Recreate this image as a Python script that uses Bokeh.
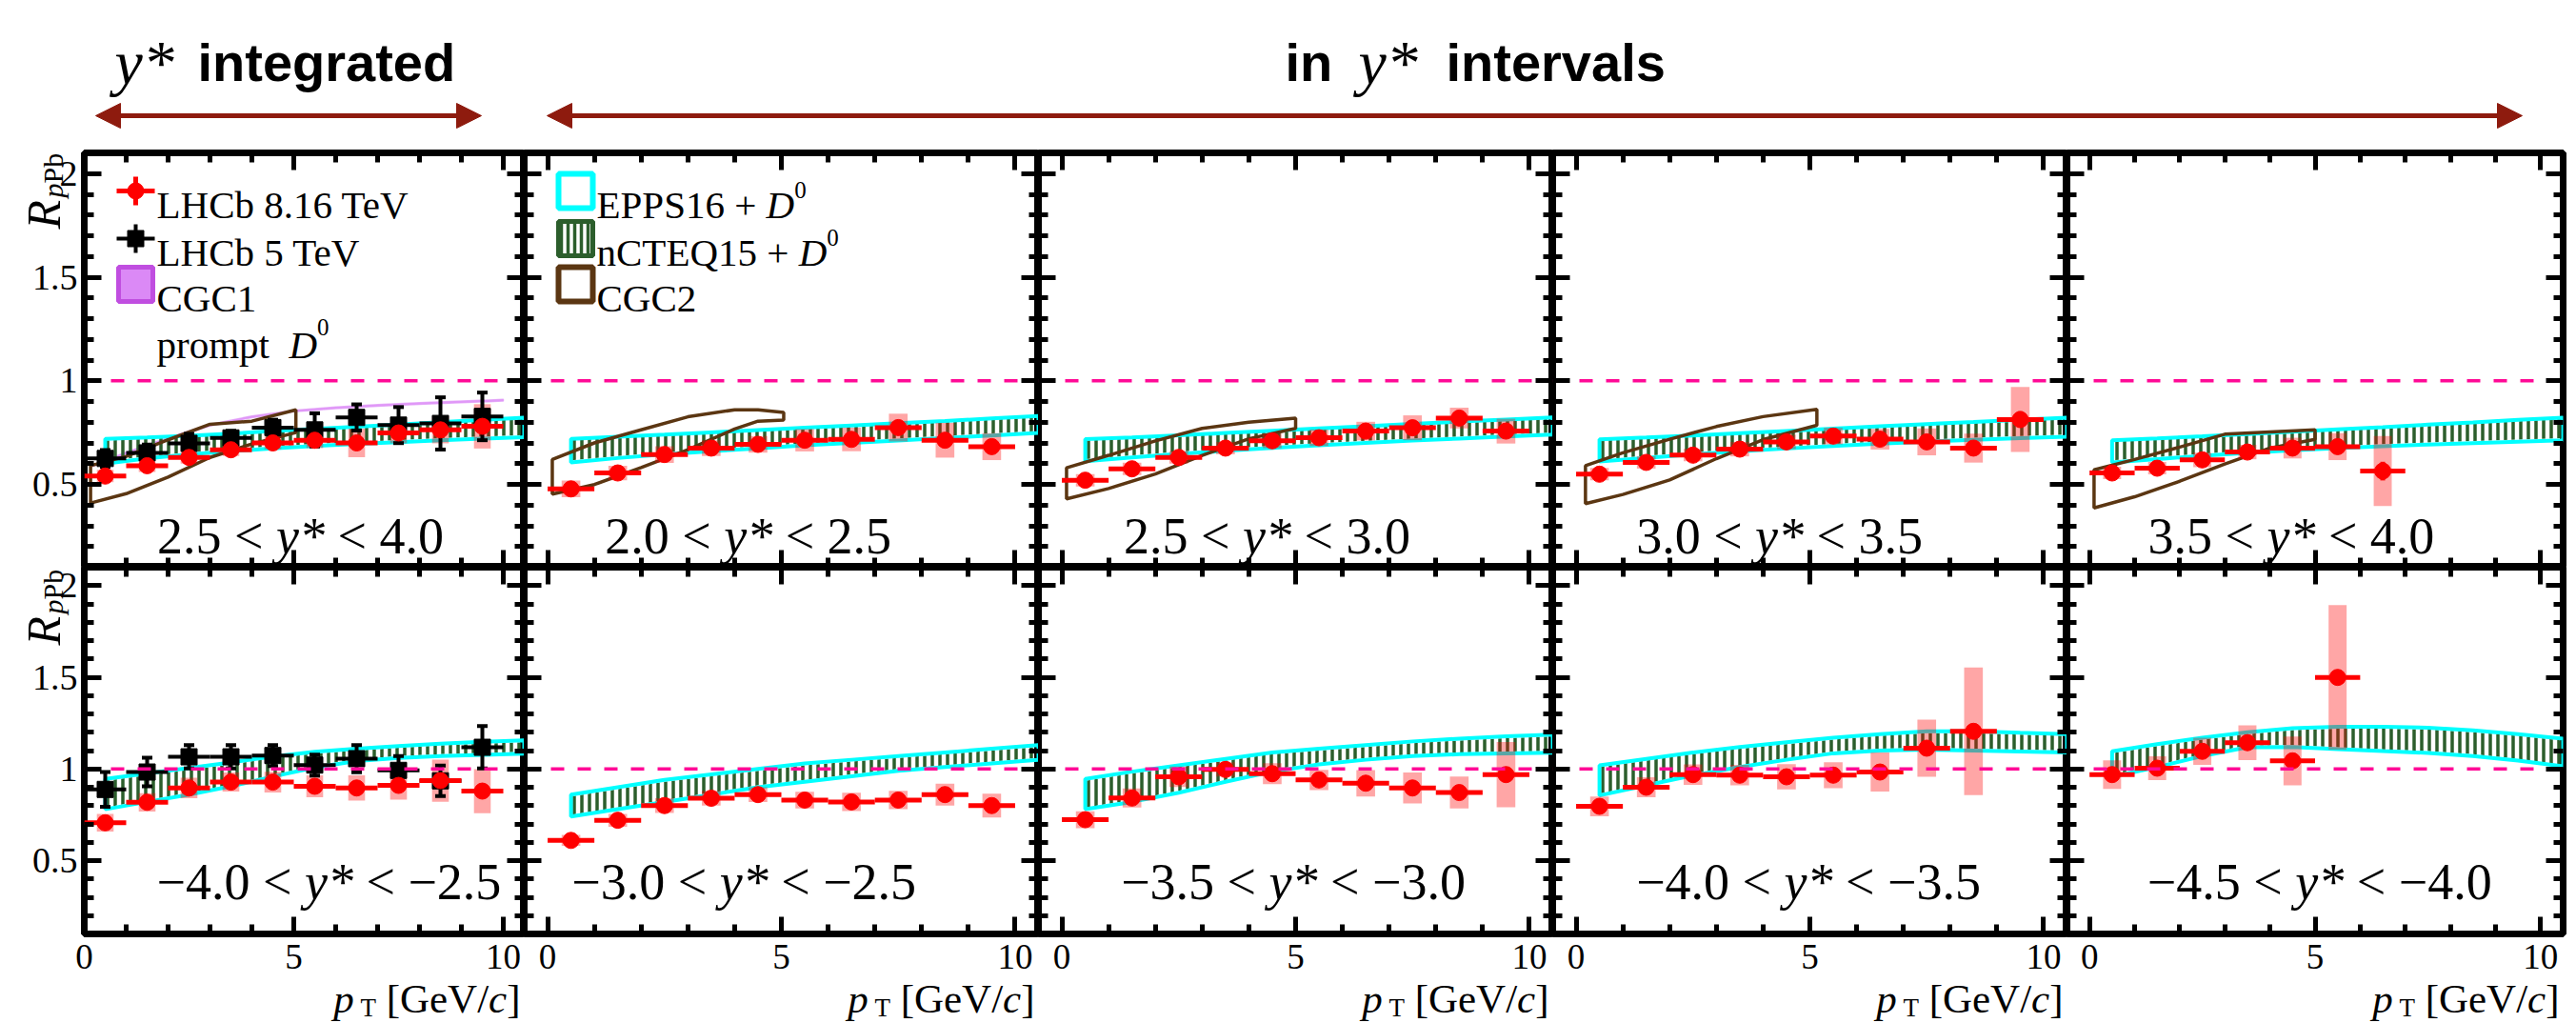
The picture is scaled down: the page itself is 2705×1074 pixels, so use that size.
import math
from bokeh.plotting import figure
from bokeh.models import (Range1d, LinearAxis, SingleIntervalTicker, Span, Label,
                          Arrow, NormalHead)
from bokeh.layouts import column, row
from bokeh.embed import file_html
from bokeh.resources import INLINE
from bokeh.core.properties import value

# ---------------------------------------------------------------------------
# Transverse-momentum binning (GeV/c)
# ---------------------------------------------------------------------------
PT = [0.5, 1.5, 2.5, 3.5, 4.5, 5.5, 6.5, 7.5, 8.5, 9.5]
PT_HALF_BIN = 0.5
SYST_HALF_WIDTH = 0.2
BAND_PT = [0.5, 1.5, 2.5, 3.5, 4.5, 5.5, 6.5, 7.5, 8.5, 9.5, 10.5]

# Axis tick labels
X_TICKS = [0, 5, 10]
X_TICK_LABELS = ["0", "5", "10"]
Y_TICKS = [0.5, 1.0, 1.5, 2.0]
Y_TICK_LABELS = ["0.5", "1", "1.5", "2"]

# ---------------------------------------------------------------------------
# LHCb 8.16 TeV prompt D0 R_pPb, forward rapidity (top row)
# ---------------------------------------------------------------------------
RPPB_FWD_INT = [0.54, 0.59, 0.63, 0.667, 0.70, 0.713, 0.70, 0.748, 0.763, 0.78]
STAT_FWD_INT = [0.01, 0.01, 0.01, 0.01, 0.012, 0.015, 0.02, 0.02, 0.025, 0.03]
SYST_FWD_INT = [0.03, 0.03, 0.03, 0.03, 0.03, 0.038, 0.069, 0.05, 0.065, 0.107]

RPPB_FWD_20 = [0.478, 0.555, 0.644, 0.675, 0.693, 0.713, 0.717, 0.774, 0.713, 0.682]
STAT_FWD_20 = [0.01, 0.01, 0.01, 0.01, 0.012, 0.015, 0.02, 0.02, 0.025, 0.03]
SYST_FWD_20 = [0.04, 0.035, 0.04, 0.038, 0.04, 0.054, 0.057, 0.067, 0.084, 0.065]

RPPB_FWD_25 = [0.52, 0.575, 0.63, 0.675, 0.71, 0.725, 0.757, 0.773, 0.82, 0.757]
STAT_FWD_25 = [0.01, 0.01, 0.01, 0.01, 0.012, 0.015, 0.02, 0.02, 0.025, 0.03]
SYST_FWD_25 = [0.03, 0.03, 0.03, 0.03, 0.035, 0.04, 0.045, 0.06, 0.05, 0.06]

RPPB_FWD_30 = [0.549, 0.606, 0.641, 0.670, 0.705, 0.733, 0.718, 0.705, 0.675, 0.813]
STAT_FWD_30 = [0.01, 0.01, 0.01, 0.01, 0.012, 0.015, 0.02, 0.02, 0.025, 0.04]
SYST_FWD_30 = [0.03, 0.03, 0.03, 0.035, 0.035, 0.04, 0.05, 0.065, 0.07, 0.157]

RPPB_FWD_35 = [0.555, 0.578, 0.618, 0.656, 0.675, 0.682, 0.564]
STAT_FWD_35 = [0.01, 0.01, 0.01, 0.015, 0.015, 0.02, 0.045]
SYST_FWD_35 = [0.03, 0.03, 0.035, 0.035, 0.05, 0.065, 0.169]

# ---------------------------------------------------------------------------
# LHCb 8.16 TeV prompt D0 R_pPb, backward rapidity (bottom row)
# ---------------------------------------------------------------------------
RPPB_BWD_INT = [0.706, 0.818, 0.896, 0.928, 0.928, 0.905, 0.896, 0.910, 0.936, 0.879]
STAT_BWD_INT = [0.01, 0.01, 0.01, 0.012, 0.012, 0.015, 0.02, 0.02, 0.025, 0.03]
SYST_BWD_INT = [0.048, 0.05, 0.056, 0.052, 0.056, 0.06, 0.069, 0.078, 0.115, 0.12]

RPPB_BWD_30 = [0.61, 0.72, 0.80, 0.84, 0.86, 0.83, 0.82, 0.83, 0.86, 0.80]
STAT_BWD_30 = [0.01, 0.01, 0.01, 0.012, 0.012, 0.015, 0.02, 0.02, 0.025, 0.03]
SYST_BWD_30 = [0.03, 0.035, 0.04, 0.04, 0.04, 0.045, 0.05, 0.05, 0.06, 0.065]

RPPB_BWD_35 = [0.723, 0.841, 0.957, 0.997, 0.974, 0.94, 0.922, 0.896, 0.871, 0.969]
STAT_BWD_35 = [0.01, 0.01, 0.01, 0.012, 0.012, 0.015, 0.02, 0.02, 0.025, 0.035]
SYST_BWD_35 = [0.046, 0.052, 0.056, 0.039, 0.057, 0.055, 0.072, 0.084, 0.087, 0.178]

RPPB_BWD_40 = [0.796, 0.9, 0.969, 0.966, 0.957, 0.966, 0.983, 1.113, 1.205]
STAT_BWD_40 = [0.01, 0.01, 0.012, 0.012, 0.015, 0.015, 0.02, 0.025, 0.035]
SYST_BWD_40 = [0.054, 0.055, 0.056, 0.056, 0.069, 0.071, 0.107, 0.156, 0.348]

RPPB_BWD_45 = [0.969, 1.004, 1.096, 1.143, 1.044, 1.499]
STAT_BWD_45 = [0.015, 0.015, 0.02, 0.02, 0.03, 0.035]
SYST_BWD_45 = [0.078, 0.065, 0.074, 0.095, 0.133, 0.394]

# ---------------------------------------------------------------------------
# LHCb 5 TeV prompt D0 R_pPb (rapidity integrated)
# ---------------------------------------------------------------------------
RPPB5_FWD = [0.625, 0.652, 0.698, 0.724, 0.774, 0.763, 0.823, 0.786, 0.794, 0.828]
ERR5_FWD = [0.04, 0.04, 0.046, 0.035, 0.038, 0.08, 0.063, 0.087, 0.126, 0.115]
RPPB5_BWD = [0.888, 0.983, 1.066, 1.066, 1.073, 1.021, 1.056, 0.992, 0.935, 1.118]
ERR5_BWD = [0.095, 0.078, 0.064, 0.064, 0.057, 0.057, 0.074, 0.078, 0.083, 0.116]

# ---------------------------------------------------------------------------
# nPDF calculations (EPPS16 and nCTEQ15), band edges on BAND_PT
# ---------------------------------------------------------------------------
EPPS_HI_FWD_INT = [0.720, 0.727, 0.735, 0.745, 0.757, 0.768, 0.778, 0.789, 0.800, 0.811, 0.822]
EPPS_LO_FWD_INT = [0.600, 0.625, 0.645, 0.660, 0.674, 0.685, 0.695, 0.704, 0.713, 0.721, 0.728]
NCTEQ_HI_FWD_INT = [0.712, 0.720, 0.730, 0.740, 0.752, 0.763, 0.773, 0.784, 0.795, 0.806, 0.817]
NCTEQ_LO_FWD_INT = [0.612, 0.636, 0.655, 0.670, 0.684, 0.695, 0.705, 0.714, 0.723, 0.731, 0.738]

EPPS_HI_FWD_20 = [0.720, 0.730, 0.740, 0.751, 0.762, 0.773, 0.784, 0.795, 0.806, 0.818, 0.830]
EPPS_LO_FWD_20 = [0.606, 0.627, 0.645, 0.660, 0.674, 0.688, 0.700, 0.712, 0.724, 0.736, 0.748]
NCTEQ_HI_FWD_20 = [0.714, 0.724, 0.734, 0.745, 0.756, 0.767, 0.778, 0.789, 0.800, 0.812, 0.824]
NCTEQ_LO_FWD_20 = [0.616, 0.637, 0.655, 0.670, 0.684, 0.698, 0.710, 0.722, 0.734, 0.746, 0.758]

EPPS_HI_FWD_25 = [0.718, 0.727, 0.737, 0.748, 0.759, 0.770, 0.781, 0.792, 0.803, 0.813, 0.823]
EPPS_LO_FWD_25 = [0.612, 0.630, 0.647, 0.662, 0.676, 0.689, 0.700, 0.711, 0.721, 0.731, 0.740]
NCTEQ_HI_FWD_25 = [0.712, 0.721, 0.731, 0.742, 0.753, 0.764, 0.775, 0.786, 0.797, 0.807, 0.817]
NCTEQ_LO_FWD_25 = [0.622, 0.640, 0.657, 0.672, 0.686, 0.699, 0.710, 0.721, 0.731, 0.741, 0.750]

EPPS_HI_FWD_30 = [0.717, 0.726, 0.736, 0.747, 0.758, 0.769, 0.780, 0.791, 0.801, 0.812, 0.822]
EPPS_LO_FWD_30 = [0.610, 0.628, 0.645, 0.660, 0.673, 0.685, 0.696, 0.706, 0.715, 0.723, 0.730]
NCTEQ_HI_FWD_30 = [0.711, 0.720, 0.730, 0.741, 0.752, 0.763, 0.774, 0.785, 0.795, 0.806, 0.816]
NCTEQ_LO_FWD_30 = [0.620, 0.638, 0.655, 0.670, 0.683, 0.695, 0.706, 0.716, 0.725, 0.733, 0.740]

EPPS_HI_FWD_35 = [0.713, 0.722, 0.732, 0.743, 0.754, 0.765, 0.776, 0.788, 0.799, 0.811, 0.822]
EPPS_LO_FWD_35 = [0.606, 0.622, 0.638, 0.652, 0.664, 0.675, 0.684, 0.692, 0.699, 0.706, 0.713]
NCTEQ_HI_FWD_35 = [0.707, 0.716, 0.726, 0.737, 0.748, 0.759, 0.770, 0.782, 0.793, 0.805, 0.816]
NCTEQ_LO_FWD_35 = [0.616, 0.632, 0.648, 0.662, 0.674, 0.685, 0.694, 0.702, 0.709, 0.716, 0.723]

EPPS_HI_BWD_INT = [0.945, 0.975, 1.005, 1.035, 1.068, 1.093, 1.110, 1.125, 1.138, 1.148, 1.156]
EPPS_LO_BWD_INT = [0.780, 0.820, 0.860, 0.905, 0.958, 1.008, 1.043, 1.060, 1.070, 1.077, 1.083]
NCTEQ_HI_BWD_INT = [0.935, 0.965, 0.995, 1.025, 1.058, 1.083, 1.100, 1.115, 1.128, 1.138, 1.146]
NCTEQ_LO_BWD_INT = [0.790, 0.830, 0.870, 0.915, 0.968, 1.018, 1.053, 1.070, 1.080, 1.087, 1.093]

EPPS_HI_BWD_30 = [0.860, 0.900, 0.940, 0.970, 1.000, 1.030, 1.050, 1.070, 1.090, 1.110, 1.130]
EPPS_LO_BWD_30 = [0.740, 0.780, 0.820, 0.860, 0.900, 0.930, 0.960, 0.990, 1.010, 1.030, 1.050]
NCTEQ_HI_BWD_30 = [0.850, 0.890, 0.930, 0.960, 0.990, 1.020, 1.040, 1.060, 1.080, 1.100, 1.120]
NCTEQ_LO_BWD_30 = [0.750, 0.790, 0.830, 0.870, 0.910, 0.940, 0.970, 1.000, 1.020, 1.040, 1.060]

EPPS_HI_BWD_35 = [0.945, 0.985, 1.020, 1.055, 1.090, 1.110, 1.130, 1.150, 1.165, 1.178, 1.187]
EPPS_LO_BWD_35 = [0.780, 0.820, 0.870, 0.930, 0.985, 1.025, 1.050, 1.070, 1.080, 1.085, 1.088]
NCTEQ_HI_BWD_35 = [0.935, 0.975, 1.010, 1.045, 1.080, 1.100, 1.120, 1.140, 1.155, 1.168, 1.177]
NCTEQ_LO_BWD_35 = [0.790, 0.830, 0.880, 0.940, 0.995, 1.035, 1.060, 1.080, 1.090, 1.095, 1.098]

EPPS_HI_BWD_40 = [1.020, 1.055, 1.090, 1.120, 1.145, 1.170, 1.190, 1.205, 1.205, 1.197, 1.190]
EPPS_LO_BWD_40 = [0.855, 0.910, 0.965, 1.010, 1.050, 1.085, 1.100, 1.105, 1.100, 1.095, 1.090]
NCTEQ_HI_BWD_40 = [1.010, 1.045, 1.080, 1.110, 1.135, 1.160, 1.180, 1.195, 1.195, 1.187, 1.180]
NCTEQ_LO_BWD_40 = [0.865, 0.920, 0.975, 1.020, 1.060, 1.095, 1.110, 1.115, 1.110, 1.105, 1.100]

EPPS_HI_BWD_45 = [1.096, 1.135, 1.170, 1.200, 1.222, 1.230, 1.230, 1.225, 1.210, 1.190, 1.165]
EPPS_LO_BWD_45 = [0.957, 1.010, 1.070, 1.118, 1.120, 1.108, 1.097, 1.087, 1.070, 1.045, 1.014]
NCTEQ_HI_BWD_45 = [1.086, 1.125, 1.160, 1.190, 1.212, 1.220, 1.220, 1.215, 1.200, 1.180, 1.155]
NCTEQ_LO_BWD_45 = [0.967, 1.020, 1.080, 1.128, 1.130, 1.118, 1.107, 1.097, 1.080, 1.055, 1.024]

# ---------------------------------------------------------------------------
# Colour-glass-condensate calculations
# ---------------------------------------------------------------------------
CGC1_PT = [0.15, 1.0, 2.0, 3.0, 4.0, 5.0, 6.0, 7.0, 8.0, 9.0, 10.0]
CGC1_HI = [0.590, 0.655, 0.725, 0.790, 0.830, 0.858, 0.874, 0.885, 0.894, 0.902, 0.910]
CGC1_LO = [0.582, 0.647, 0.717, 0.782, 0.822, 0.850, 0.866, 0.877, 0.886, 0.894, 0.902]

CGC2_PT_FWD_INT = [0.15, 1.0, 2.0, 3.0, 4.0, 5.05]
CGC2_HI_FWD_INT = [0.590, 0.635, 0.715, 0.790, 0.805, 0.860]
CGC2_LO_FWD_INT = [0.410, 0.455, 0.535, 0.630, 0.695, 0.750]

CGC2_PT_FWD_20 = [0.1, 1.0, 2.0, 3.0, 4.0, 4.5, 5.05]
CGC2_HI_FWD_20 = [0.620, 0.700, 0.763, 0.826, 0.860, 0.860, 0.847]
CGC2_LO_FWD_20 = [0.453, 0.499, 0.581, 0.667, 0.767, 0.805, 0.810]

CGC2_PT_FWD_25 = [0.1, 1.0, 2.0, 3.0, 4.0, 5.0]
CGC2_HI_FWD_25 = [0.580, 0.640, 0.710, 0.770, 0.800, 0.820]
CGC2_LO_FWD_25 = [0.430, 0.480, 0.550, 0.640, 0.720, 0.770]

CGC2_PT_FWD_30 = [0.2, 1.0, 2.0, 3.0, 4.0, 5.15]
CGC2_HI_FWD_30 = [0.590, 0.652, 0.718, 0.779, 0.827, 0.862]
CGC2_LO_FWD_30 = [0.407, 0.451, 0.521, 0.624, 0.716, 0.785]

CGC2_PT_FWD_35 = [0.1, 1.0, 2.0, 3.0, 4.0, 5.0]
CGC2_HI_FWD_35 = [0.570, 0.620, 0.680, 0.742, 0.753, 0.763]
CGC2_LO_FWD_35 = [0.386, 0.440, 0.515, 0.598, 0.675, 0.717]

# Rapidity-interval captions
TOP_RAPIDITY = [("2.5", "4.0"), ("2.0", "2.5"), ("2.5", "3.0"), ("3.0", "3.5"), ("3.5", "4.0")]
BOT_RAPIDITY = [("\u22124.0", "\u22122.5"), ("\u22123.0", "\u22122.5"), ("\u22123.5", "\u22123.0"),
                ("\u22124.0", "\u22123.5"), ("\u22124.5", "\u22124.0")]

# ---------------------------------------------------------------------------
# Page geometry (pixels) and axis ranges
# ---------------------------------------------------------------------------
HEADER_H = 156
TOP_PAD = 4
TOP_FRAME_H = 435
BOT_FRAME_H = 385
EDGE = 4                   # room for the outer half of the frame line
BOT_STRIP_H = 90
LEFT_STRIP_W = 84
RIGHT_PAD = 14
FRAME_W = [462, 540, 540, 540, 521]
X_LO = [0.0, -0.5, -0.5, -0.5, -0.5]
X_HI = 10.5
Y_LO, Y_HI = 0.1, 2.1

TOP_CAPTION_X = [5.16, 4.29, 4.39, 4.35, 4.47]
BOT_CAPTION_X = [5.84, 4.2, 4.95, 4.97, 5.1]
TOP_CAPTION_DY = 33
BOT_CAPTION_DY = 55
CAPTION_SIZE = 54

# Styles
RED = "#ff0000"
CYAN = "#00ffff"
GREEN = "#2c5e2c"
BROWN = "#5b3612"
VIOLET = "#d77cf5"
VIOLET_EDGE = "#c04ee0"
DASH_PINK = "#ff0a96"
ARROW_RED = "#8e1b0e"
SERIF = "Liberation Serif"
SANS = "Liberation Sans"

# Advance widths (1/1000 em) for the composed captions
TIMES_REGULAR = {" ": 250, ".": 250, "<": 564, "*": 500, "+": 564, "\u2212": 564, "[": 333, "]": 333,
                 "/": 278, "L": 611, "H": 722, "C": 667, "b": 500, "T": 611, "e": 444, "V": 722,
                 "G": 722, "E": 611, "P": 556, "S": 556, "n": 500, "Q": 722, "p": 500, "r": 333,
                 "o": 500, "m": 778, "t": 278}
for _d in "0123456789":
    TIMES_REGULAR[_d] = 500
TIMES_ITALIC = {"y": 444, "D": 722, "p": 500, "c": 444, "R": 611, "*": 500, " ": 250}
SANS_BOLD = {"i": 278, "n": 611, "t": 333, "e": 556, "g": 611, "r": 389, "a": 556, "d": 611,
             "v": 556, "l": 278, "s": 556, " ": 278}


def text_width(text, font, style, size):
    if font == SANS:
        table = SANS_BOLD
    elif style == "italic":
        table = TIMES_ITALIC
    else:
        table = TIMES_REGULAR
    return sum(table.get(ch, 500) for ch in text) * size / 1000.0


def add_runs(p, x, y, runs, align="left", dx=0.0, dy=0.0, units_per_px=0.0):
    """Place a sequence of differently styled text runs on one baseline.

    Each run is anchored at its own left end (data x converted from the pixel
    advance), so every label sits where it is drawn."""
    widths = [text_width(t, f, s, z) for t, f, s, z, _ in runs]
    total = sum(widths)
    pos = dx + {"left": 0.0, "center": -total / 2.0, "right": -total}[align]
    for (t, f, s, z, rise), w in zip(runs, widths):
        shown = t.strip(" ")
        if shown:
            lead = text_width(t[: len(t) - len(t.lstrip(" "))], f, s, z)
            off = pos + lead
            if units_per_px:
                ax, xo = x + off * units_per_px, 0.0
            else:
                ax, xo = x, off
            p.add_layout(Label(x=ax, y=y, x_offset=xo, y_offset=dy + rise, text=shown,
                               text_font=f, text_font_style=s, text_font_size=f"{z}px",
                               text_color="black", text_baseline="alphabetic", text_align="left"))
        pos += w


def make_axis(side):
    if side in ("below", "above"):
        ticker = SingleIntervalTicker(interval=5, num_minor_ticks=5)
    else:
        ticker = SingleIntervalTicker(interval=0.5, num_minor_ticks=5)
    return LinearAxis(ticker=ticker, axis_line_color=None,
                      major_tick_in=18, major_tick_out=0, minor_tick_in=10, minor_tick_out=0,
                      major_tick_line_width=5, minor_tick_line_width=5,
                      major_tick_line_color="black", minor_tick_line_color="black",
                      major_label_text_font_size="0px", major_label_text_color=None,
                      major_label_text_alpha=0, major_label_standoff=0)


def bare_figure(width, height, x_range, y_range, **kw):
    opts = dict(min_border_left=0, min_border_right=0, min_border_top=0, min_border_bottom=0,
                outline_line_color=None)
    opts.update(kw)
    return figure(width=width, height=height, x_range=x_range, y_range=y_range,
                  x_axis_type=None, y_axis_type=None, output_backend="svg", toolbar_location=None,
                  background_fill_color="white", border_fill_color="white", **opts)


def make_panel(col, row_idx):
    left = EDGE if col == 0 else 0
    right = RIGHT_PAD if col == 4 else 0
    top = TOP_PAD if row_idx == 0 else 0
    bottom = EDGE if row_idx == 1 else 0
    fh = TOP_FRAME_H if row_idx == 0 else BOT_FRAME_H
    p = bare_figure(left + FRAME_W[col] + right, top + fh + bottom,
                    Range1d(X_LO[col], X_HI), Range1d(Y_LO, Y_HI),
                    min_border_left=left, min_border_right=right,
                    min_border_top=top, min_border_bottom=bottom,
                    outline_line_color="black", outline_line_width=7)
    for side in ("below", "above", "left", "right"):
        p.add_layout(make_axis(side), side)
    return p


def units_per_px(col):
    return (X_HI - X_LO[col]) / FRAME_W[col]


def px_to_data(col, row_idx, dx_px, dy_px):
    """Offset from a frame's top-left corner (pixels) -> data coordinates."""
    fh = TOP_FRAME_H if row_idx == 0 else BOT_FRAME_H
    x = X_LO[col] + dx_px * units_per_px(col)
    y = Y_HI - dy_px * (Y_HI - Y_LO) / fh
    return x, y


def closed(xs, lo, hi):
    return list(xs) + list(xs)[::-1], list(lo) + list(hi)[::-1]


def draw_panel(p, cfg):
    if cfg.get("cgc1"):
        bx, by = closed(CGC1_PT, CGC1_LO, CGC1_HI)
        p.patch(bx, by, fill_color=VIOLET, fill_alpha=0.6, line_color=VIOLET,
                line_width=1.5, line_alpha=0.6)
    lo, hi = cfg["ncteq"]
    bx, by = closed(BAND_PT, lo, hi)
    p.patch(bx, by, fill_color=None, line_color=None, hatch_pattern="|",
            hatch_color=GREEN, hatch_weight=3.5, hatch_scale=8)
    lo, hi = cfg["epps"]
    bx, by = closed(BAND_PT, lo, hi)
    p.patch(bx, by, fill_color=None, line_color=CYAN, line_width=4)
    if cfg.get("cgc2"):
        cx, clo, chi = cfg["cgc2"]
        bx, by = closed(cx, clo, chi)
        p.patch(bx, by, fill_color=None, line_color=BROWN, line_width=3.5)

    p.add_layout(Span(location=1.0, dimension="width", line_color=DASH_PINK,
                      line_width=3.5, line_dash="14 14", level="glyph"))

    r, stat, syst = cfg["r"], cfg["stat"], cfg["syst"]
    x = PT[: len(r)]
    p.quad(left=[v - SYST_HALF_WIDTH for v in x], right=[v + SYST_HALF_WIDTH for v in x],
           bottom=[a - b for a, b in zip(r, syst)], top=[a + b for a, b in zip(r, syst)],
           fill_color=RED, fill_alpha=0.35, line_color=None)

    if cfg.get("r5"):
        r5, e5 = cfg["r5"]
        x5 = PT[: len(r5)]
        lo5 = [a - b for a, b in zip(r5, e5)]
        hi5 = [a + b for a, b in zip(r5, e5)]
        p.segment(x0=[v - PT_HALF_BIN for v in x5], x1=[v + PT_HALF_BIN for v in x5],
                  y0=r5, y1=r5, line_color="black", line_width=4)
        p.segment(x0=x5, x1=x5, y0=lo5, y1=hi5, line_color="black", line_width=4)
        p.scatter(x5 + x5, lo5 + hi5, marker="dash", size=11, line_color="black", line_width=4)
        p.scatter(x5, r5, marker="square", size=17, color="black")

    p.segment(x0=[v - PT_HALF_BIN for v in x], x1=[v + PT_HALF_BIN for v in x],
              y0=r, y1=r, line_color=RED, line_width=5)
    p.segment(x0=x, x1=x, y0=[a - b for a, b in zip(r, stat)],
              y1=[a + b for a, b in zip(r, stat)], line_color=RED, line_width=5)
    p.scatter(x, r, marker="circle", size=17, color=RED)


# Panel definitions assembled from the arrays above
TOP_PANELS = [
    dict(r=RPPB_FWD_INT, stat=STAT_FWD_INT, syst=SYST_FWD_INT,
         epps=(EPPS_LO_FWD_INT, EPPS_HI_FWD_INT), ncteq=(NCTEQ_LO_FWD_INT, NCTEQ_HI_FWD_INT),
         cgc2=(CGC2_PT_FWD_INT, CGC2_LO_FWD_INT, CGC2_HI_FWD_INT),
         r5=(RPPB5_FWD, ERR5_FWD), cgc1=True),
    dict(r=RPPB_FWD_20, stat=STAT_FWD_20, syst=SYST_FWD_20,
         epps=(EPPS_LO_FWD_20, EPPS_HI_FWD_20), ncteq=(NCTEQ_LO_FWD_20, NCTEQ_HI_FWD_20),
         cgc2=(CGC2_PT_FWD_20, CGC2_LO_FWD_20, CGC2_HI_FWD_20)),
    dict(r=RPPB_FWD_25, stat=STAT_FWD_25, syst=SYST_FWD_25,
         epps=(EPPS_LO_FWD_25, EPPS_HI_FWD_25), ncteq=(NCTEQ_LO_FWD_25, NCTEQ_HI_FWD_25),
         cgc2=(CGC2_PT_FWD_25, CGC2_LO_FWD_25, CGC2_HI_FWD_25)),
    dict(r=RPPB_FWD_30, stat=STAT_FWD_30, syst=SYST_FWD_30,
         epps=(EPPS_LO_FWD_30, EPPS_HI_FWD_30), ncteq=(NCTEQ_LO_FWD_30, NCTEQ_HI_FWD_30),
         cgc2=(CGC2_PT_FWD_30, CGC2_LO_FWD_30, CGC2_HI_FWD_30)),
    dict(r=RPPB_FWD_35, stat=STAT_FWD_35, syst=SYST_FWD_35,
         epps=(EPPS_LO_FWD_35, EPPS_HI_FWD_35), ncteq=(NCTEQ_LO_FWD_35, NCTEQ_HI_FWD_35),
         cgc2=(CGC2_PT_FWD_35, CGC2_LO_FWD_35, CGC2_HI_FWD_35)),
]
BOT_PANELS = [
    dict(r=RPPB_BWD_INT, stat=STAT_BWD_INT, syst=SYST_BWD_INT,
         epps=(EPPS_LO_BWD_INT, EPPS_HI_BWD_INT), ncteq=(NCTEQ_LO_BWD_INT, NCTEQ_HI_BWD_INT),
         r5=(RPPB5_BWD, ERR5_BWD)),
    dict(r=RPPB_BWD_30, stat=STAT_BWD_30, syst=SYST_BWD_30,
         epps=(EPPS_LO_BWD_30, EPPS_HI_BWD_30), ncteq=(NCTEQ_LO_BWD_30, NCTEQ_HI_BWD_30)),
    dict(r=RPPB_BWD_35, stat=STAT_BWD_35, syst=SYST_BWD_35,
         epps=(EPPS_LO_BWD_35, EPPS_HI_BWD_35), ncteq=(NCTEQ_LO_BWD_35, NCTEQ_HI_BWD_35)),
    dict(r=RPPB_BWD_40, stat=STAT_BWD_40, syst=SYST_BWD_40,
         epps=(EPPS_LO_BWD_40, EPPS_HI_BWD_40), ncteq=(NCTEQ_LO_BWD_40, NCTEQ_HI_BWD_40)),
    dict(r=RPPB_BWD_45, stat=STAT_BWD_45, syst=SYST_BWD_45,
         epps=(EPPS_LO_BWD_45, EPPS_HI_BWD_45), ncteq=(NCTEQ_LO_BWD_45, NCTEQ_HI_BWD_45)),
]

# Legend layout (pixel offsets from a frame's top-left corner)
LEG_BOX_L, LEG_BOX_R = 36, 72
LEG_TEXT_DX = 76
LEG_ROWS = [40, 90, 138, 187]
LEG_FONT = 41


def legend_text(p, col, runs, row_dy):
    add_runs(p, X_LO[col], Y_HI, runs, align="left", dx=LEG_TEXT_DX, dy=-(row_dy + 14),
             units_per_px=units_per_px(col))


def legend_box(p, col, row_dy, **style):
    x0, y0 = px_to_data(col, 0, LEG_BOX_L, row_dy - 18)
    x1, y1 = px_to_data(col, 0, LEG_BOX_R, row_dy + 18)
    p.quad(left=[x0], right=[x1], top=[y0], bottom=[y1], **style)


def legend_point(p, col, row_dy, color, marker, width):
    cx_px = (LEG_BOX_L + LEG_BOX_R) / 2.0
    cx, cy = px_to_data(col, 0, cx_px, row_dy)
    xa, _ = px_to_data(col, 0, LEG_BOX_L - 2, row_dy)
    xb, _ = px_to_data(col, 0, LEG_BOX_R + 2, row_dy)
    _, ya = px_to_data(col, 0, cx_px, row_dy - 15)
    _, yb = px_to_data(col, 0, cx_px, row_dy + 15)
    p.segment(x0=[xa], x1=[xb], y0=[cy], y1=[cy], line_color=color, line_width=width)
    p.segment(x0=[cx], x1=[cx], y0=[ya], y1=[yb], line_color=color, line_width=width)
    p.scatter([cx], [cy], marker=marker, size=17, color=color)


def caption_runs(lo, hi):
    return [(f"{lo} < ", SERIF, "normal", CAPTION_SIZE, 0), ("y*", SERIF, "italic", CAPTION_SIZE, 0),
            (f" < {hi}", SERIF, "normal", CAPTION_SIZE, 0)]


top_figs, bot_figs = [], []
for col in range(5):
    p = make_panel(col, 0)
    draw_panel(p, TOP_PANELS[col])
    add_runs(p, TOP_CAPTION_X[col], Y_LO, caption_runs(*TOP_RAPIDITY[col]),
             align="center", dy=TOP_CAPTION_DY, units_per_px=units_per_px(col))
    top_figs.append(p)

    q = make_panel(col, 1)
    draw_panel(q, BOT_PANELS[col])
    add_runs(q, BOT_CAPTION_X[col], Y_LO, caption_runs(*BOT_RAPIDITY[col]),
             align="center", dy=BOT_CAPTION_DY, units_per_px=units_per_px(col))
    bot_figs.append(q)

# Legend of the data (integrated panel)
p0 = top_figs[0]
legend_point(p0, 0, LEG_ROWS[0], RED, "circle", 5)
legend_text(p0, 0, [("LHCb 8.16 TeV", SERIF, "normal", LEG_FONT, 0)], LEG_ROWS[0])
legend_point(p0, 0, LEG_ROWS[1], "black", "square", 4)
legend_text(p0, 0, [("LHCb 5 TeV", SERIF, "normal", LEG_FONT, 0)], LEG_ROWS[1])
legend_box(p0, 0, LEG_ROWS[2], fill_color=VIOLET, fill_alpha=0.9, line_color=VIOLET_EDGE, line_width=5)
legend_text(p0, 0, [("CGC1", SERIF, "normal", LEG_FONT, 0)], LEG_ROWS[2])
legend_text(p0, 0, [("prompt  ", SERIF, "normal", LEG_FONT, 0), ("D", SERIF, "italic", LEG_FONT, 0),
                    ("0", SERIF, "normal", 25, 18)], LEG_ROWS[3])

# Legend of the calculations (first rapidity-interval panel)
p1 = top_figs[1]
legend_box(p1, 1, LEG_ROWS[0], fill_color=None, line_color=CYAN, line_width=6)
legend_text(p1, 1, [("EPPS16 + ", SERIF, "normal", LEG_FONT, 0), ("D", SERIF, "italic", LEG_FONT, 0),
                    ("0", SERIF, "normal", 25, 15)], LEG_ROWS[0])
legend_box(p1, 1, LEG_ROWS[1], fill_color=None, line_color=GREEN, line_width=5,
           hatch_pattern="|", hatch_color=GREEN, hatch_weight=3.5, hatch_scale=7)
legend_text(p1, 1, [("nCTEQ15 + ", SERIF, "normal", LEG_FONT, 0), ("D", SERIF, "italic", LEG_FONT, 0),
                    ("0", SERIF, "normal", 25, 15)], LEG_ROWS[1])
legend_box(p1, 1, LEG_ROWS[2], fill_color=None, line_color=BROWN, line_width=6)
legend_text(p1, 1, [("CGC2", SERIF, "normal", LEG_FONT, 0)], LEG_ROWS[2])

# Left strip spanning both rows: y tick labels and R_pPb titles, placed with each row's scale
ROW_TOPS = [TOP_PAD, TOP_PAD + TOP_FRAME_H]          # frame tops, from the strip top
ROW_FRAME_H = [TOP_FRAME_H, BOT_FRAME_H]
STRIP_H = TOP_PAD + TOP_FRAME_H + BOT_FRAME_H + EDGE
left_strip = bare_figure(LEFT_STRIP_W, STRIP_H, Range1d(0, LEFT_STRIP_W), Range1d(0, STRIP_H))


def strip_y(row_idx, v):
    return STRIP_H - (ROW_TOPS[row_idx] + (Y_HI - v) * ROW_FRAME_H[row_idx] / (Y_HI - Y_LO))


for row_idx, lift in ((0, -80), (1, -82)):
    left_strip.text(x=[LEFT_STRIP_W - 3] * len(Y_TICKS), y=[strip_y(row_idx, v) for v in Y_TICKS],
                    text=Y_TICK_LABELS, text_font=value(SERIF), text_font_size=value("38px"),
                    text_color="black", text_align=value("right"), text_baseline=value("middle"))
    for text, style, size, along, shift in (("R", "italic", 50, 0.0, 0),
                                             ("p", "italic", 30, 33.0, 10),
                                             ("Pb", "normal", 30, 48.0, 10)):
        left_strip.add_layout(Label(x=45 + shift, y=strip_y(row_idx, Y_HI) + lift + along,
                                    text=text, angle=math.pi / 2,
                                    text_font=SERIF, text_font_style=style,
                                    text_font_size=f"{size}px", text_color="black",
                                    text_baseline="alphabetic", text_align="left"))

# Bottom strips: x tick labels and the p_T title, on the same horizontal scale as the panels
x_strips = []
for col in range(5):
    upx = units_per_px(col)
    extra_left = LEFT_STRIP_W + EDGE if col == 0 else 0
    extra_right = RIGHT_PAD if col == 4 else 0
    s = bare_figure(extra_left + FRAME_W[col] + extra_right, BOT_STRIP_H,
                    Range1d(X_LO[col] - extra_left * upx, X_HI + extra_right * upx),
                    Range1d(0, BOT_STRIP_H))
    s.text(x=X_TICKS, y=[BOT_STRIP_H - 20] * len(X_TICKS), text=X_TICK_LABELS,
           text_font=value(SERIF), text_font_size=value("37px"), text_color="black",
           text_align=value("center"), text_baseline=value("middle"))
    add_runs(s, X_HI, BOT_STRIP_H - 64,
             [("p", SERIF, "italic", 43, 0), (" T", SERIF, "normal", 27, -9),
              (" [GeV/", SERIF, "normal", 43, 0), ("c", SERIF, "italic", 43, 0),
              ("]", SERIF, "normal", 43, 0)], align="right", dx=-4, units_per_px=upx)
    x_strips.append(s)

# Header with the two rapidity-range banners
WIN_W = sum(FRAME_W) + LEFT_STRIP_W + EDGE + RIGHT_PAD
header = bare_figure(WIN_W, HEADER_H, Range1d(0, WIN_W), Range1d(0, HEADER_H))
BANNER_BASE = HEADER_H - 65
for x_left, runs in ((120, [("y*", SERIF, "italic", 66, 0)]),
                     (207, [("integrated", SANS, "bold", 56, 0)]),
                     (1349, [("in", SANS, "bold", 56, 0)]),
                     (1426, [("y*", SERIF, "italic", 66, 0)]),
                     (1518, [("intervals", SANS, "bold", 56, 0)])):
    add_runs(header, x_left, BANNER_BASE, runs, align="left", units_per_px=1.0)
ARROW_Y = HEADER_H - 121
for xa, xb in ((100, 505), (574, 2648)):
    header.add_layout(Arrow(start=NormalHead(size=26, fill_color=ARROW_RED, line_color=ARROW_RED),
                            end=NormalHead(size=26, fill_color=ARROW_RED, line_color=ARROW_RED),
                            x_start=xa, y_start=ARROW_Y, x_end=xb, y_end=ARROW_Y,
                            line_color=ARROW_RED, line_width=5))

layout = column(header,
                row(left_strip, column(row(*top_figs), row(*bot_figs))),
                row(*x_strips))
open("out.html", "w").write(file_html(layout, INLINE))
